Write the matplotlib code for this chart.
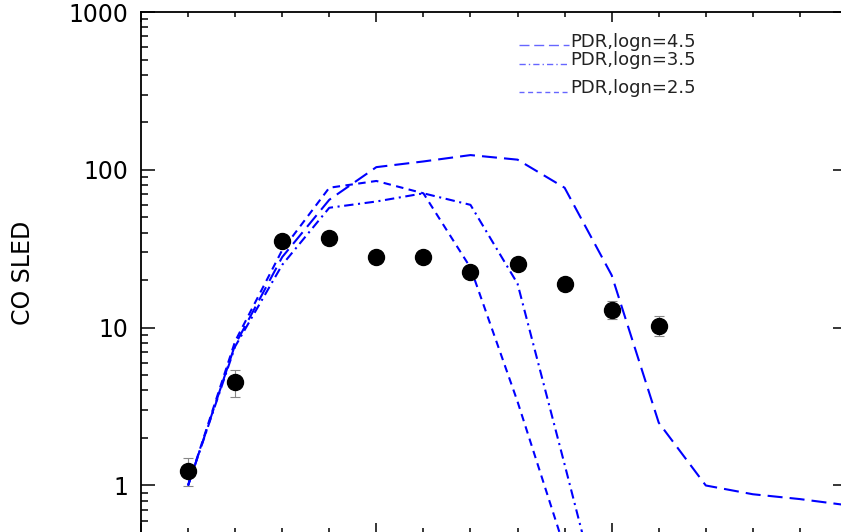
import numpy as np
import matplotlib
matplotlib.use("Agg")
import matplotlib.pyplot as plt

# observed CO SLED
j_obs = [1, 2, 3, 4, 5, 6, 7, 8, 9, 10, 11]
flux_obs = [1.24, 4.5, 35.5, 37.0, 28.0, 28.0, 22.6, 25.4, 19.0, 13.0, 10.3]
err_obs = [0.25, 0.87, 1.5, 1.5, 1.2, 1.2, 1.2, 1.5, 1.4, 1.7, 1.5]

# PDR models
j_45 = [1, 2, 3, 4, 5, 6, 7, 8, 9, 10, 11, 12, 13, 14, 15]
pdr_45 = [1.0, 7.8, 28, 64.6, 104, 113, 124, 116, 77, 21.5, 2.5, 1.0, 0.88, 0.82, 0.75]
j_35 = [1, 2, 3, 4, 5, 6, 7, 8, 9, 10]
pdr_35 = [1.0, 7.6, 25, 57.5, 63, 71, 60, 19, 1.36, 0.094]
j_25 = [1, 2, 3, 4, 5, 6, 7, 8, 9, 10]
pdr_25 = [1.0, 8.2, 31, 77, 85, 71, 24, 3.4, 0.40, 0.03]

labels = ["PDR,logn=4.5", "PDR,logn=3.5", "PDR,logn=2.5"]

blue = "#0000ff"
lw = 1.5
dash_45 = (7.2, 3.4)
dash_35 = (4.5, 2.2, 1.0, 2.2)
dash_25 = (3.6, 2.6)

fig = plt.figure(figsize=(8.41, 5.32), dpi=100)
ax = fig.add_axes([141 / 841, -1 / 532, 706 / 841, 521 / 532])

ax.errorbar(j_obs, flux_obs, yerr=err_obs, fmt="none", ecolor="#888888",
            elinewidth=0.8, capsize=3.6, capthick=0.8, zorder=2)
ax.plot(j_obs, flux_obs, "o", color="black", markersize=11.5, zorder=3)

ax.plot(j_45, pdr_45, color=blue, lw=lw, dashes=dash_45)
ax.plot(j_35, pdr_35, color=blue, lw=lw, dashes=dash_35)
ax.plot(j_25, pdr_25, color=blue, lw=lw, dashes=dash_25)

ax.set_yscale("log")
ax.set_xlim(0, 15)
ax.set_ylim(0.5, 1000)
ax.set_xticks([0, 5, 10, 15])
ax.set_xticks(np.arange(0, 16, 1), minor=True)
ax.set_yticks([1, 10, 100, 1000])
ax.set_yticklabels(["1", "10", "100", "1000"])

for s in ax.spines.values():
    s.set_linewidth(1.3)

ax.tick_params(axis="both", which="both", direction="in", top=True, right=True,
               width=1.1, colors="black")
ax.tick_params(axis="y", which="major", length=10, labelsize=17, pad=9)
ax.tick_params(axis="y", which="minor", length=5, right=False)
ax.tick_params(axis="x", which="major", length=7, labelbottom=False)
ax.tick_params(axis="x", which="minor", length=3.6)

ax.set_ylabel("CO SLED", fontsize=17, labelpad=24)

# legend drawn by hand to keep its uneven spacing
leg_y = [0.9367, 0.900, 0.8464]
txt_y = [0.9328, 0.8983, 0.8445]
for d, lab, yl, yt in zip([dash_45, dash_35, dash_25], labels, leg_y, txt_y):
    ax.plot([0.5348, 0.6057], [yl, yl], transform=ax.transAxes, color=blue,
            lw=1.0, dashes=d, alpha=0.6)
    ax.text(0.6085, yt, lab, transform=ax.transAxes, fontsize=13,
            va="baseline", ha="left", color="#222222")

fig.savefig("out.png", dpi=100)
